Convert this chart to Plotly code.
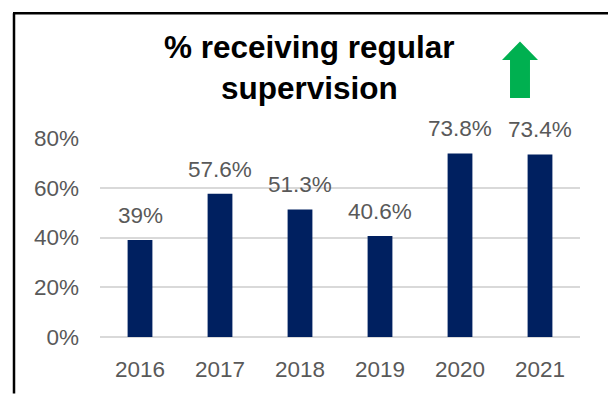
import plotly.graph_objects as go

# Share of staff receiving regular supervision, by year
years = ["2016", "2017", "2018", "2019", "2020", "2021"]
share = [0.39, 0.576, 0.513, 0.406, 0.738, 0.734]
labels = ["39%", "57.6%", "51.3%", "40.6%", "73.8%", "73.4%"]
y_ticks = [0, 0.2, 0.4, 0.6, 0.8]
y_tick_text = ["0%", "20%", "40%", "60%", "80%"]

W, H = 608, 394
L, R, T, B = 100, 28, 138, 52
pw, ph = W - L - R, H - T - B


def px(x):
    return (x - L) / pw


def py(y):
    return (H - B - y) / ph


FONT = "Liberation Sans, Arial, sans-serif"

fig = go.Figure()
fig.add_trace(go.Bar(
    x=years, y=share, width=0.31,
    marker=dict(color="#002060", line=dict(width=0)),
    hoverinfo="skip",
))

# value labels above bars (category index used so year strings aren't read as numbers)
for i, (v, t) in enumerate(zip(share, labels)):
    fig.add_annotation(
        x=i, y=v, text=t, showarrow=False, yanchor="bottom",
        yshift=10, font=dict(family=FONT, size=22.5, color="#595959"),
    )

# title
fig.add_annotation(
    xref="paper", yref="paper", x=px(309), y=py(66),
    text="<b>% receiving regular<br>supervision</b>",
    showarrow=False, xanchor="center", yanchor="middle",
    font=dict(family=FONT, size=31.5, color="#000000"), align="center",
)

# green up arrow
pts = [(520, 39), (538, 58), (530, 58), (530, 97), (510, 97), (510, 58), (502, 58)]
path = "M " + " L ".join(f"{px(a):.4f},{py(b):.4f}" for a, b in pts) + " Z"
fig.add_shape(type="path", xref="paper", yref="paper", path=path,
              fillcolor="#00B050", line=dict(width=0))

# frame (left and top edges)
fig.add_shape(type="line", xref="paper", yref="paper",
              x0=px(14), y0=py(400), x1=px(14), y1=py(10),
              line=dict(color="#000000", width=2.5))
fig.add_shape(type="line", xref="paper", yref="paper",
              x0=px(13), y0=py(10), x1=px(612), y1=py(10),
              line=dict(color="#000000", width=2.5))

fig.update_layout(
    width=W, height=H, margin=dict(l=L, r=R, t=T, b=B),
    paper_bgcolor="white", plot_bgcolor="white", showlegend=False,
    xaxis=dict(
        type="category", range=[-0.5, len(years) - 0.5],
        showgrid=False, showline=False, zeroline=False, ticks="",
        tickfont=dict(family=FONT, size=22.5, color="#595959"),
        ticklabelstandoff=16, fixedrange=True,
    ),
    yaxis=dict(
        range=[0, 0.8], tickvals=y_ticks, ticktext=y_tick_text,
        showgrid=True, gridcolor="#d9d9d9", gridwidth=1.5,
        zeroline=True, zerolinecolor="#d9d9d9", zerolinewidth=1.5,
        showline=False, ticks="",
        tickfont=dict(family=FONT, size=22.5, color="#595959"),
        ticklabelstandoff=20, fixedrange=True,
    ),
)

fig.write_html("out.html")
